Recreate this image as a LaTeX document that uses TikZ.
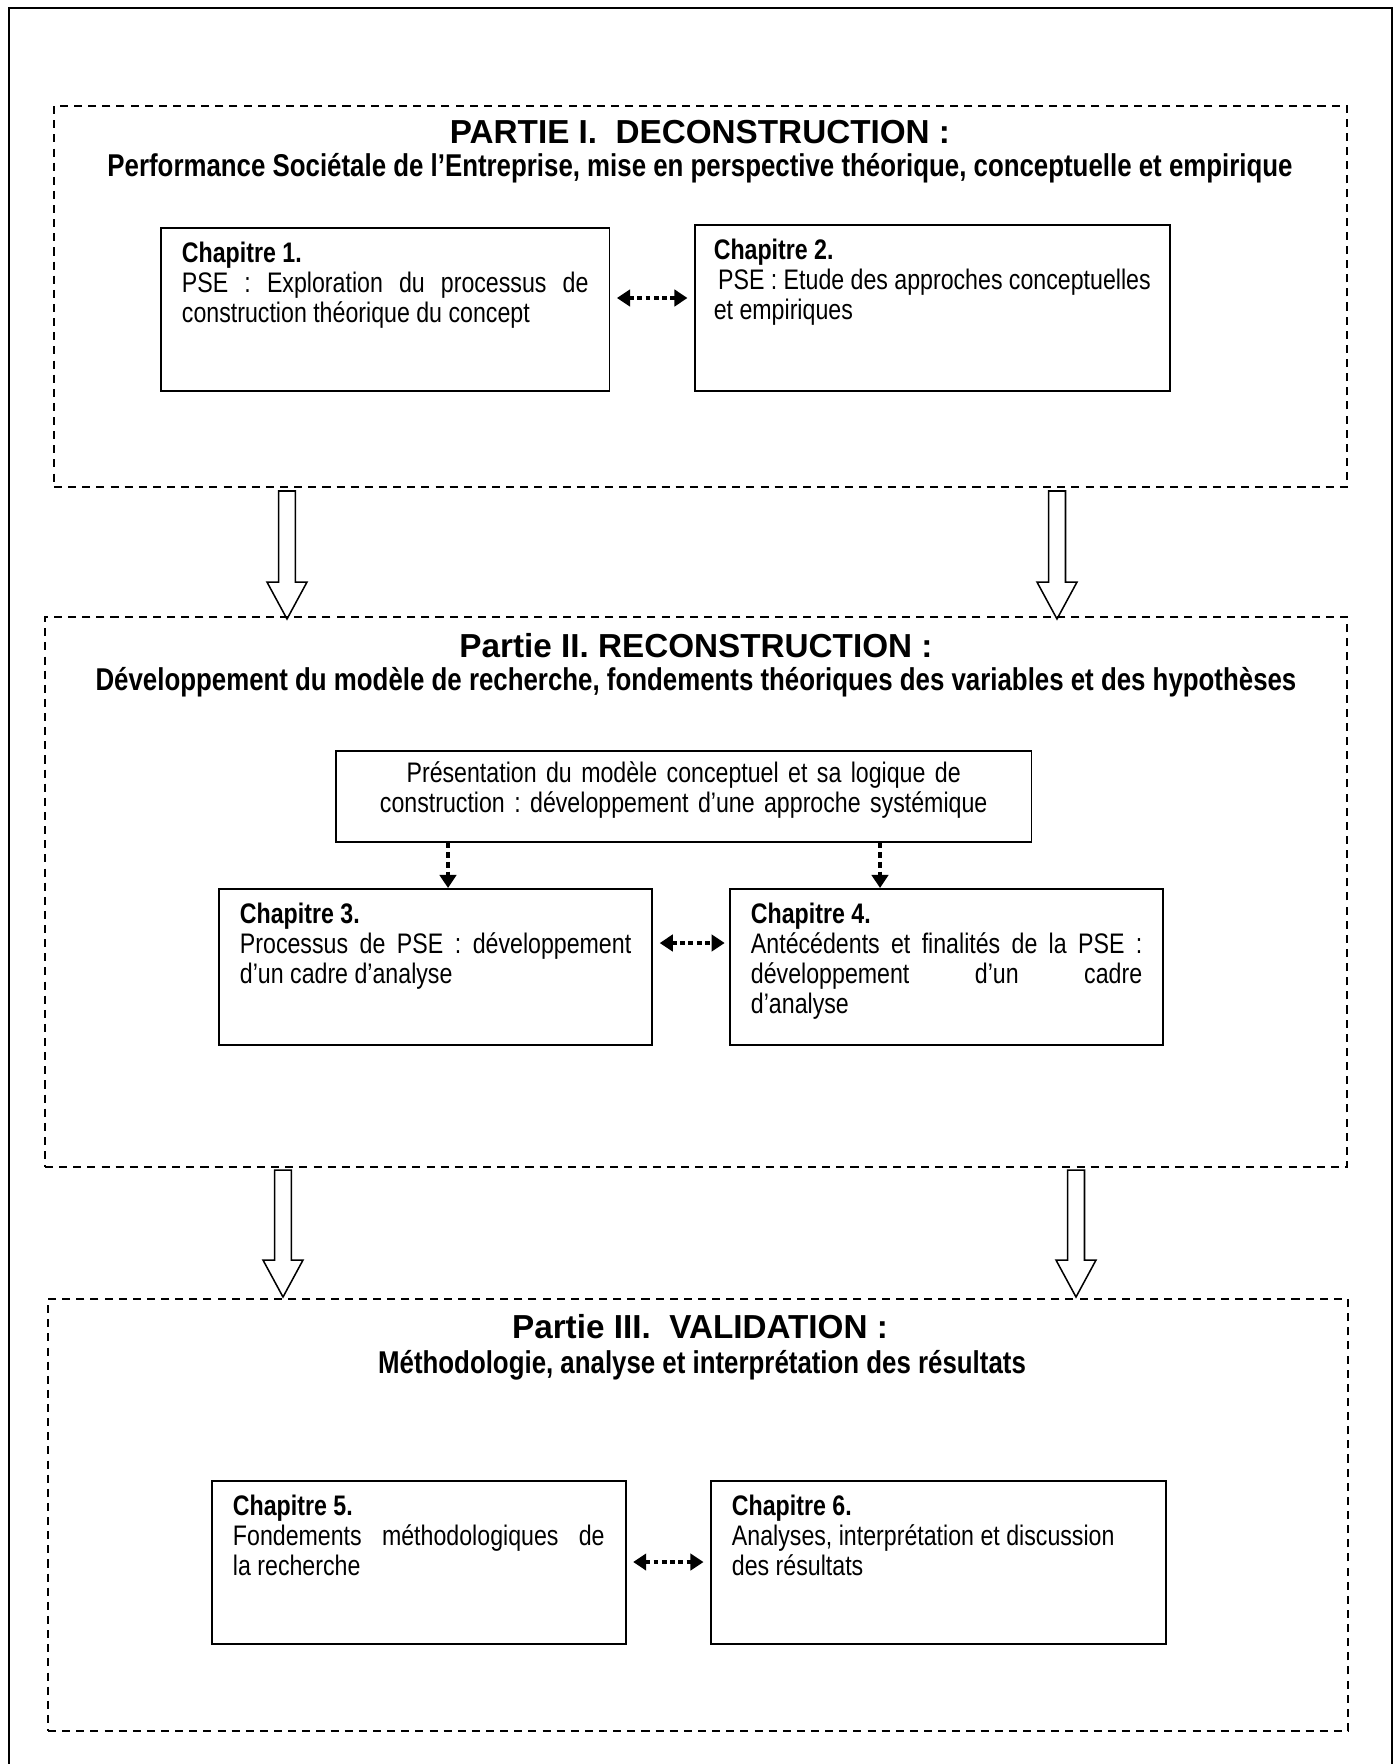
\documentclass[tikz,border=0pt]{standalone}
\usepackage{fontspec}
\setmainfont{Liberation Sans}
\newfontfamily\narrowfont{Liberation Sans}[FakeStretch=0.82]
\usetikzlibrary{arrows.meta,calc,positioning}
\frenchspacing
\tikzset{
    partbox/.style={draw, dash pattern=on 3.7pt off 2.8pt, line width=0.7pt, inner sep=0pt},
    parttitle/.style={font=\bfseries\fontsize{15.3}{17}\selectfont},
    partsub/.style={font=\narrowfont\bfseries\fontsize{14.5}{16}\selectfont},
    chap/.style={draw, line width=0.8pt, anchor=north west, align=justify,
        inner xsep=9.7pt, inner ysep=6.8pt, text height=9pt,
        font=\narrowfont\fontsize{13}{13.8}\selectfont},
    dotboth/.style={line width=2pt, dash pattern=on 2.2pt off 1.6pt,
        {Triangle[length=6pt,width=7.5pt]}-{Triangle[length=6pt,width=7.5pt]}},
    dotdown/.style={line width=2pt, dash pattern=on 2.6pt off 1.8pt,
        -{Triangle[length=6pt,width=7.5pt]}},
    bigarrow/.style={line width=0.7pt}
}
% hollow arrow from #1 down to its tip #2
\newcommand{\blockarrow}[2]{%
    \draw[bigarrow] let \p1=(#1), \p2=(#2) in
        (\x1-3.9pt,\y1) -- (\x1-3.9pt,\y2+17pt) -- (\x1-9.2pt,\y2+17pt)
        -- (\x2,\y2) -- (\x1+9.2pt,\y2+17pt) -- (\x1+3.9pt,\y2+17pt)
        -- (\x1+3.9pt,\y1) -- cycle;}

\begin{document}
\begin{tikzpicture}[x=0.46pt, y=-0.46pt]
\useasboundingbox (0,0) rectangle (1398,1764);
\draw[line width=0.9pt] (9,1764) -- (9,8) -- (1392,8) -- (1392,1764);

% Partie I
\node[partbox, minimum width=594.8pt, minimum height=175.3pt] (p1) at (700.5,296.5) {};
\node[parttitle] (t1) at (700,132) {PARTIE I.\ \ DECONSTRUCTION :};
\node[partsub] (s1) at (700,168) {Performance Sociétale de l’Entreprise, mise en perspective théorique, conceptuelle et empirique};
\node[chap, text width=187pt, text depth=52.4pt] (ch1) at (160,227)
    {\textbf{Chapitre 1.}\\ PSE : Exploration du processus de\linebreak construction théorique du concept};
\node[chap, text width=201pt, inner xsep=8.7pt, text depth=53.8pt] (ch2) at (694,224)
    {\textbf{Chapitre 2.}\\ \hspace*{2pt}PSE : Etude des approches conceptuelles\\ et empiriques};
\coordinate (h1) at (0,298);
\draw[dotboth, shorten <=3pt, shorten >=3pt] (ch1.east |- h1) -- (ch2.west |- h1);

% I -> II
\coordinate (a1s) at (287,491);
\coordinate (a1e) at (287,619);
\coordinate (a2s) at (1057,491);
\coordinate (a2e) at (1057,619);
\blockarrow{a1s}{a1e}
\blockarrow{a2s}{a2e}

% Partie II
\node[partbox, minimum width=598.9pt, minimum height=253pt] (p2) at (696,892) {};
\node[parttitle] (t2) at (696,646) {Partie II. RECONSTRUCTION :};
\node[partsub] (s2) at (696,682) {Développement du modèle de recherche, fondements théoriques des variables et des hypothèses};
\node[chap, align=center, text width=310pt, inner xsep=5pt, inner ysep=5.4pt, text depth=22.1pt] (pres) at (335,750)
    {Présentation du modèle conceptuel et sa logique de\\ construction : développement d’une approche systémique};
\node[chap, text width=180pt, text depth=49.2pt] (ch3) at (218,888)
    {\textbf{Chapitre 3.}\\ Processus de PSE : développement\linebreak d’un cadre d’analyse};
\node[chap, text width=180pt, text depth=49.2pt] (ch4) at (729,888)
    {\textbf{Chapitre 4.}\\ Antécédents et finalités de la PSE~:\linebreak développement d’un cadre\linebreak d’analyse};
\coordinate (d3) at (448,0);
\coordinate (d4) at (880,0);
\draw[dotdown] (pres.south -| d3) -- (ch3.north -| d3);
\draw[dotdown] (pres.south -| d4) -- (ch4.north -| d4);
\coordinate (h2) at (0,943);
\draw[dotboth, shorten <=3pt, shorten >=2pt] (ch3.east |- h2) -- (ch4.west |- h2);

% II -> III
\coordinate (b1s) at (283,1170);
\coordinate (b1e) at (283,1297);
\coordinate (b2s) at (1076,1170);
\coordinate (b2e) at (1076,1297);
\blockarrow{b1s}{b1e}
\blockarrow{b2s}{b2e}

% Partie III
\node[partbox, minimum width=598pt, minimum height=198.7pt] (p3) at (698,1515) {};
\node[parttitle] (t3) at (700,1327) {Partie III.\ \ VALIDATION :};
\node[partsub] (s3) at (702,1365) {Méthodologie, analyse et interprétation des résultats};
\node[chap, text width=171pt, text depth=52.4pt] (ch5) at (211,1480)
    {\textbf{Chapitre 5.}\\ Fondements méthodologiques de\linebreak la recherche};
\node[chap, text width=190pt, text depth=52.4pt] (ch6) at (710,1480)
    {\textbf{Chapitre 6.}\\ Analyses, interprétation et discussion\\ des résultats};
\coordinate (h3) at (0,1562);
\draw[dotboth, shorten <=3pt, shorten >=3pt] (ch5.east |- h3) -- (ch6.west |- h3);
\end{tikzpicture}
\end{document}
